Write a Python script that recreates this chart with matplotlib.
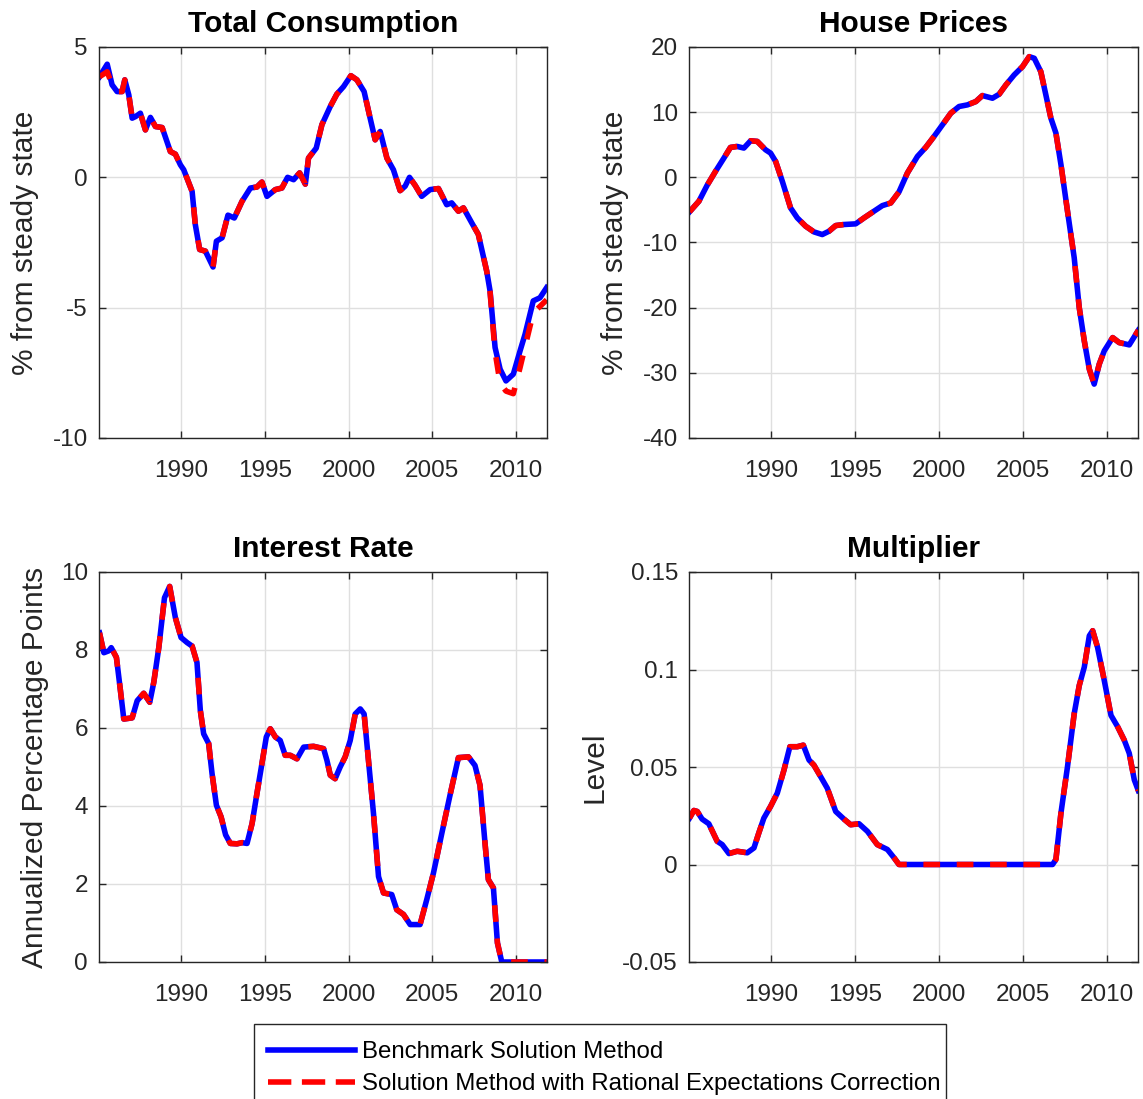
import numpy as np
import matplotlib
matplotlib.use("Agg")
import matplotlib.pyplot as plt
from matplotlib.lines import Line2D
from matplotlib.patches import Rectangle

# ---- data ----
cons_years = [1985.13, 1985.59, 1985.88, 1986.18, 1986.48, 1986.64, 1986.88, 1987.08, 1987.28,
              1987.57, 1987.87, 1988.17, 1988.47, 1988.87, 1989.36, 1989.66, 1989.96, 1990.16,
              1990.66, 1990.85, 1991.11, 1991.45, 1991.91, 1992.11, 1992.45, 1992.80, 1993.18,
              1993.64, 1994.14, 1994.53, 1994.83, 1995.13, 1995.63, 1996.02, 1996.36, 1996.72,
              1997.08, 1997.42, 1997.61, 1998.07, 1998.41, 1998.91, 1999.30, 1999.70, 2000.14,
              2000.50, 2000.93, 2001.29, 2001.59, 2001.89, 2002.29, 2002.68, 2003.08, 2003.38,
              2003.64, 2003.98, 2004.37, 2004.87, 2005.37, 2005.86, 2006.16, 2006.56, 2006.86,
              2007.36, 2007.75, 2008.25, 2008.45, 2008.75, 2009.05, 2009.40, 2009.84, 2010.24,
              2010.54, 2011.03, 2011.43, 2011.83]
cons_bench = [3.86, 4.34, 3.55, 3.29, 3.29, 3.74, 3.16, 2.27, 2.33,
              2.46, 1.82, 2.30, 1.95, 1.91, 0.99, 0.89, 0.48, 0.29,
              -0.54, -1.81, -2.77, -2.83, -3.44, -2.45, -2.32, -1.45, -1.56,
              -0.92, -0.41, -0.37, -0.18, -0.73, -0.47, -0.41, 0.00, -0.09,
              0.17, -0.26, 0.74, 1.12, 2.02, 2.72, 3.19, 3.48, 3.90,
              3.74, 3.29, 2.27, 1.44, 1.76, 0.74, 0.29, -0.51, -0.34,
              0.00, -0.31, -0.73, -0.47, -0.43, -1.05, -0.98, -1.30, -1.17,
              -1.75, -2.19, -3.60, -4.36, -6.53, -7.36, -7.81, -7.55, -6.66,
              -6.02, -4.74, -4.62, -4.23]
cons_re = [3.86, 4.05, 3.55, 3.29, 3.29, 3.74, 3.16, 2.27, 2.33,
           2.46, 1.82, 2.30, 1.95, 1.91, 0.99, 0.89, 0.48, 0.29,
           -0.54, -1.81, -2.77, -2.83, -3.44, -2.45, -2.32, -1.45, -1.56,
           -0.92, -0.41, -0.37, -0.18, -0.73, -0.47, -0.41, 0.00, -0.09,
           0.17, -0.26, 0.74, 1.12, 2.02, 2.72, 3.19, 3.48, 3.90,
           3.74, 3.29, 2.27, 1.44, 1.76, 0.74, 0.29, -0.51, -0.34,
           0.00, -0.31, -0.73, -0.47, -0.43, -1.05, -0.98, -1.30, -1.17,
           -1.75, -2.19, -3.60, -4.40, -6.70, -7.90, -8.20, -8.30, -7.30,
           -6.50, -5.20, -4.95, -4.70]

house_years = [1985.13, 1985.69, 1986.18, 1986.68, 1987.18, 1987.57, 1987.97, 1988.37, 1988.77,
               1989.17, 1989.66, 1989.96, 1990.26, 1990.66, 1991.15, 1991.55, 1992.05, 1992.54,
               1993.04, 1993.44, 1993.84, 1994.33, 1995.03, 1995.53, 1996.12, 1996.62, 1997.12,
               1997.61, 1998.11, 1998.71, 1999.20, 1999.70, 2000.20, 2000.70, 2001.19, 2001.69,
               2002.19, 2002.58, 2003.18, 2003.58, 2003.98, 2004.47, 2004.97, 2005.37, 2005.67,
               2006.06, 2006.36, 2006.66, 2006.96, 2007.26, 2007.65, 2008.05, 2008.35, 2008.65,
               2008.95, 2009.24, 2009.54, 2009.84, 2010.34, 2010.73, 2011.33, 2011.87]
house_bench = [-5.3, -3.67, -1.22, 0.92, 2.96, 4.59, 4.74, 4.49, 5.61,
               5.51, 4.23, 3.72, 2.45, -0.61, -4.69, -6.22, -7.5, -8.37,
               -8.78, -8.27, -7.4, -7.24, -7.14, -6.22, -5.2, -4.34, -3.93,
               -2.24, 0.66, 3.21, 4.59, 6.28, 8.06, 9.85, 10.87, 11.12,
               11.63, 12.55, 12.14, 12.76, 14.18, 15.71, 16.99, 18.52, 18.27,
               16.22, 12.65, 9.08, 6.79, 1.94, -5.2, -12.35, -20.0, -25.1,
               -29.44, -31.73, -28.67, -26.63, -24.59, -25.36, -25.71, -23.47]
house_re = house_bench

rate_years = [1985.13, 1985.39, 1985.69, 1985.83, 1986.14, 1986.38, 1986.58, 1987.08, 1987.38,
              1987.77, 1988.13, 1988.37, 1988.67, 1989.01, 1989.32, 1989.66, 1990.00, 1990.36,
              1990.66, 1990.95, 1991.15, 1991.35, 1991.65, 1991.85, 1992.11, 1992.39, 1992.66,
              1992.94, 1993.34, 1993.64, 1993.94, 1994.24, 1994.53, 1994.83, 1995.09, 1995.33,
              1995.63, 1995.92, 1996.22, 1996.52, 1996.92, 1997.32, 1997.91, 1998.51, 1998.71,
              1998.91, 1999.20, 1999.50, 1999.80, 2000.10, 2000.40, 2000.70, 2000.93, 2001.19,
              2001.49, 2001.79, 2002.09, 2002.58, 2002.88, 2003.28, 2003.68, 2004.27, 2004.67,
              2005.07, 2005.57, 2006.06, 2006.56, 2007.16, 2007.55, 2007.85, 2008.15, 2008.35,
              2008.65, 2008.89, 2009.15, 2011.83]
rate_bench = [8.44, 7.93, 7.98, 8.06, 7.81, 6.96, 6.23, 6.26, 6.70,
              6.89, 6.66, 7.17, 8.06, 9.34, 9.63, 8.83, 8.32, 8.19,
              8.10, 7.68, 6.45, 5.85, 5.60, 4.83, 4.02, 3.72, 3.26,
              3.04, 3.03, 3.06, 3.04, 3.55, 4.32, 5.09, 5.77, 5.98,
              5.77, 5.68, 5.30, 5.30, 5.21, 5.51, 5.53, 5.47, 5.17,
              4.79, 4.70, 5.00, 5.26, 5.68, 6.36, 6.49, 6.36, 5.17,
              3.81, 2.19, 1.77, 1.73, 1.34, 1.22, 0.96, 0.96, 1.60,
              2.28, 3.30, 4.28, 5.24, 5.26, 5.04, 4.53, 3.04, 2.11,
              1.90, 0.49, 0.00, 0.00]
rate_re = rate_bench

mult_years = [1985.13, 1985.39, 1985.59, 1985.88, 1986.28, 1986.78, 1987.08, 1987.48, 1987.97,
              1988.57, 1988.97, 1989.26, 1989.56, 1989.96, 1990.36, 1990.76, 1991.11, 1991.55,
              1991.91, 1992.25, 1992.54, 1992.94, 1993.34, 1993.84, 1994.33, 1994.73, 1995.23,
              1995.73, 1996.32, 1996.92, 1997.32, 1997.61, 2006.76, 2006.96, 2007.26, 2007.65,
              2008.05, 2008.35, 2008.65, 2008.95, 2009.15, 2009.44, 2009.84, 2010.24, 2010.64,
              2011.03, 2011.33, 2011.63, 2011.87]
mult_bench = [0.0238, 0.0277, 0.0272, 0.0233, 0.0209, 0.0119, 0.0102, 0.0056, 0.0068,
              0.0060, 0.0085, 0.0162, 0.0238, 0.0298, 0.0366, 0.0485, 0.0604, 0.0604,
              0.0612, 0.0536, 0.0510, 0.0451, 0.0391, 0.0272, 0.0233, 0.0204, 0.0209,
              0.0170, 0.0102, 0.0077, 0.0034, 0.0, 0.0, 0.0026, 0.0264, 0.0502,
              0.0774, 0.0918, 0.1012, 0.1173, 0.1199, 0.1114, 0.0944, 0.0765, 0.0706,
              0.0638, 0.0570, 0.0434, 0.0379]
mult_re = mult_bench

year_ticks = [1990, 1995, 2000, 2005, 2010]
labels = ["Benchmark Solution Method", "Solution Method with Rational Expectations Correction"]

plt.rcParams['font.family'] = ['Liberation Sans', 'DejaVu Sans']
plt.rcParams['axes.unicode_minus'] = False

W, H = 1143, 1099
fig = plt.figure(figsize=(W / 100, H / 100), dpi=100)

dark = "#262626"
lw = 4.0


def make_axes(left, top, width, height):
    return fig.add_axes([left / W, 1 - (top + height) / H, width / W, height / H])


def style(ax, title, ylabel, ylim, yticks, label_x):
    ax.set_xlim(1985.1, 2011.85)
    ax.set_ylim(*ylim)
    ax.set_xticks(year_ticks)
    ax.set_yticks(yticks)
    ax.grid(True, color="#dfdfdf", linewidth=1.0)
    ax.set_axisbelow(True)
    ax.tick_params(direction="in", top=True, right=True, length=5, width=1,
                   labelsize=17.5, colors=dark, labelcolor=dark)
    ax.tick_params(axis="x", pad=15.5)
    ax.tick_params(axis="y", pad=8)
    for sp in ax.spines.values():
        sp.set_color(dark)
        sp.set_linewidth(1)
    ax.set_title(title, fontsize=21.5, fontweight="bold", pad=10.5)
    ax.set_ylabel(ylabel, fontsize=21.5, color=dark)
    ax.yaxis.set_label_coords(label_x, 0.5)


def draw(ax, x, bench, re):
    ax.plot(x, bench, color="blue", linewidth=lw, solid_joinstyle="round")
    ax.plot(x, re, color="red", linewidth=lw, linestyle=(0, (3.0, 3.0)))


ax1 = make_axes(99, 47, 448, 391)
draw(ax1, cons_years, cons_bench, cons_re)
style(ax1, "Total Consumption", "% from steady state", (-10, 5), [-10, -5, 0, 5], -0.134)

ax2 = make_axes(689, 47, 449, 391)
draw(ax2, house_years, house_bench, house_re)
style(ax2, "House Prices", "% from steady state", (-40, 20), [-40, -30, -20, -10, 0, 10, 20], -0.133)

ax3 = make_axes(99, 572, 448, 390)
draw(ax3, rate_years, rate_bench, rate_re)
style(ax3, "Interest Rate", "Annualized Percentage Points", (0, 10), [0, 2, 4, 6, 8, 10], -0.111)

ax4 = make_axes(689, 572, 449, 390)
draw(ax4, mult_years, mult_bench, mult_re)
style(ax4, "Multiplier", "Level", (-0.05, 0.15), [-0.05, 0, 0.05, 0.1, 0.15], -0.18)
ax4.set_yticklabels(["-0.05", "0", "0.05", "0.1", "0.15"])

# legend box runs off the bottom edge, as in the original figure
fig.patches.append(Rectangle((254 / W, -0.01), 692 / W, 1 - 1024 / H + 0.01,
                             transform=fig.transFigure, facecolor="white",
                             edgecolor=dark, linewidth=1))
handles = [Line2D([], [], color="blue", linewidth=lw),
           Line2D([], [], color="red", linewidth=lw, linestyle=(0, (4.2, 1.9)))]
leg = fig.legend(handles, labels, loc="upper left", bbox_to_anchor=(258 / W, 1 - 1031 / H),
                 fontsize=17.3, frameon=False, handlelength=3.6,
                 handletextpad=0.3, borderpad=0.42, labelspacing=0.42, borderaxespad=0)

fig.savefig("out.png", dpi=100)
